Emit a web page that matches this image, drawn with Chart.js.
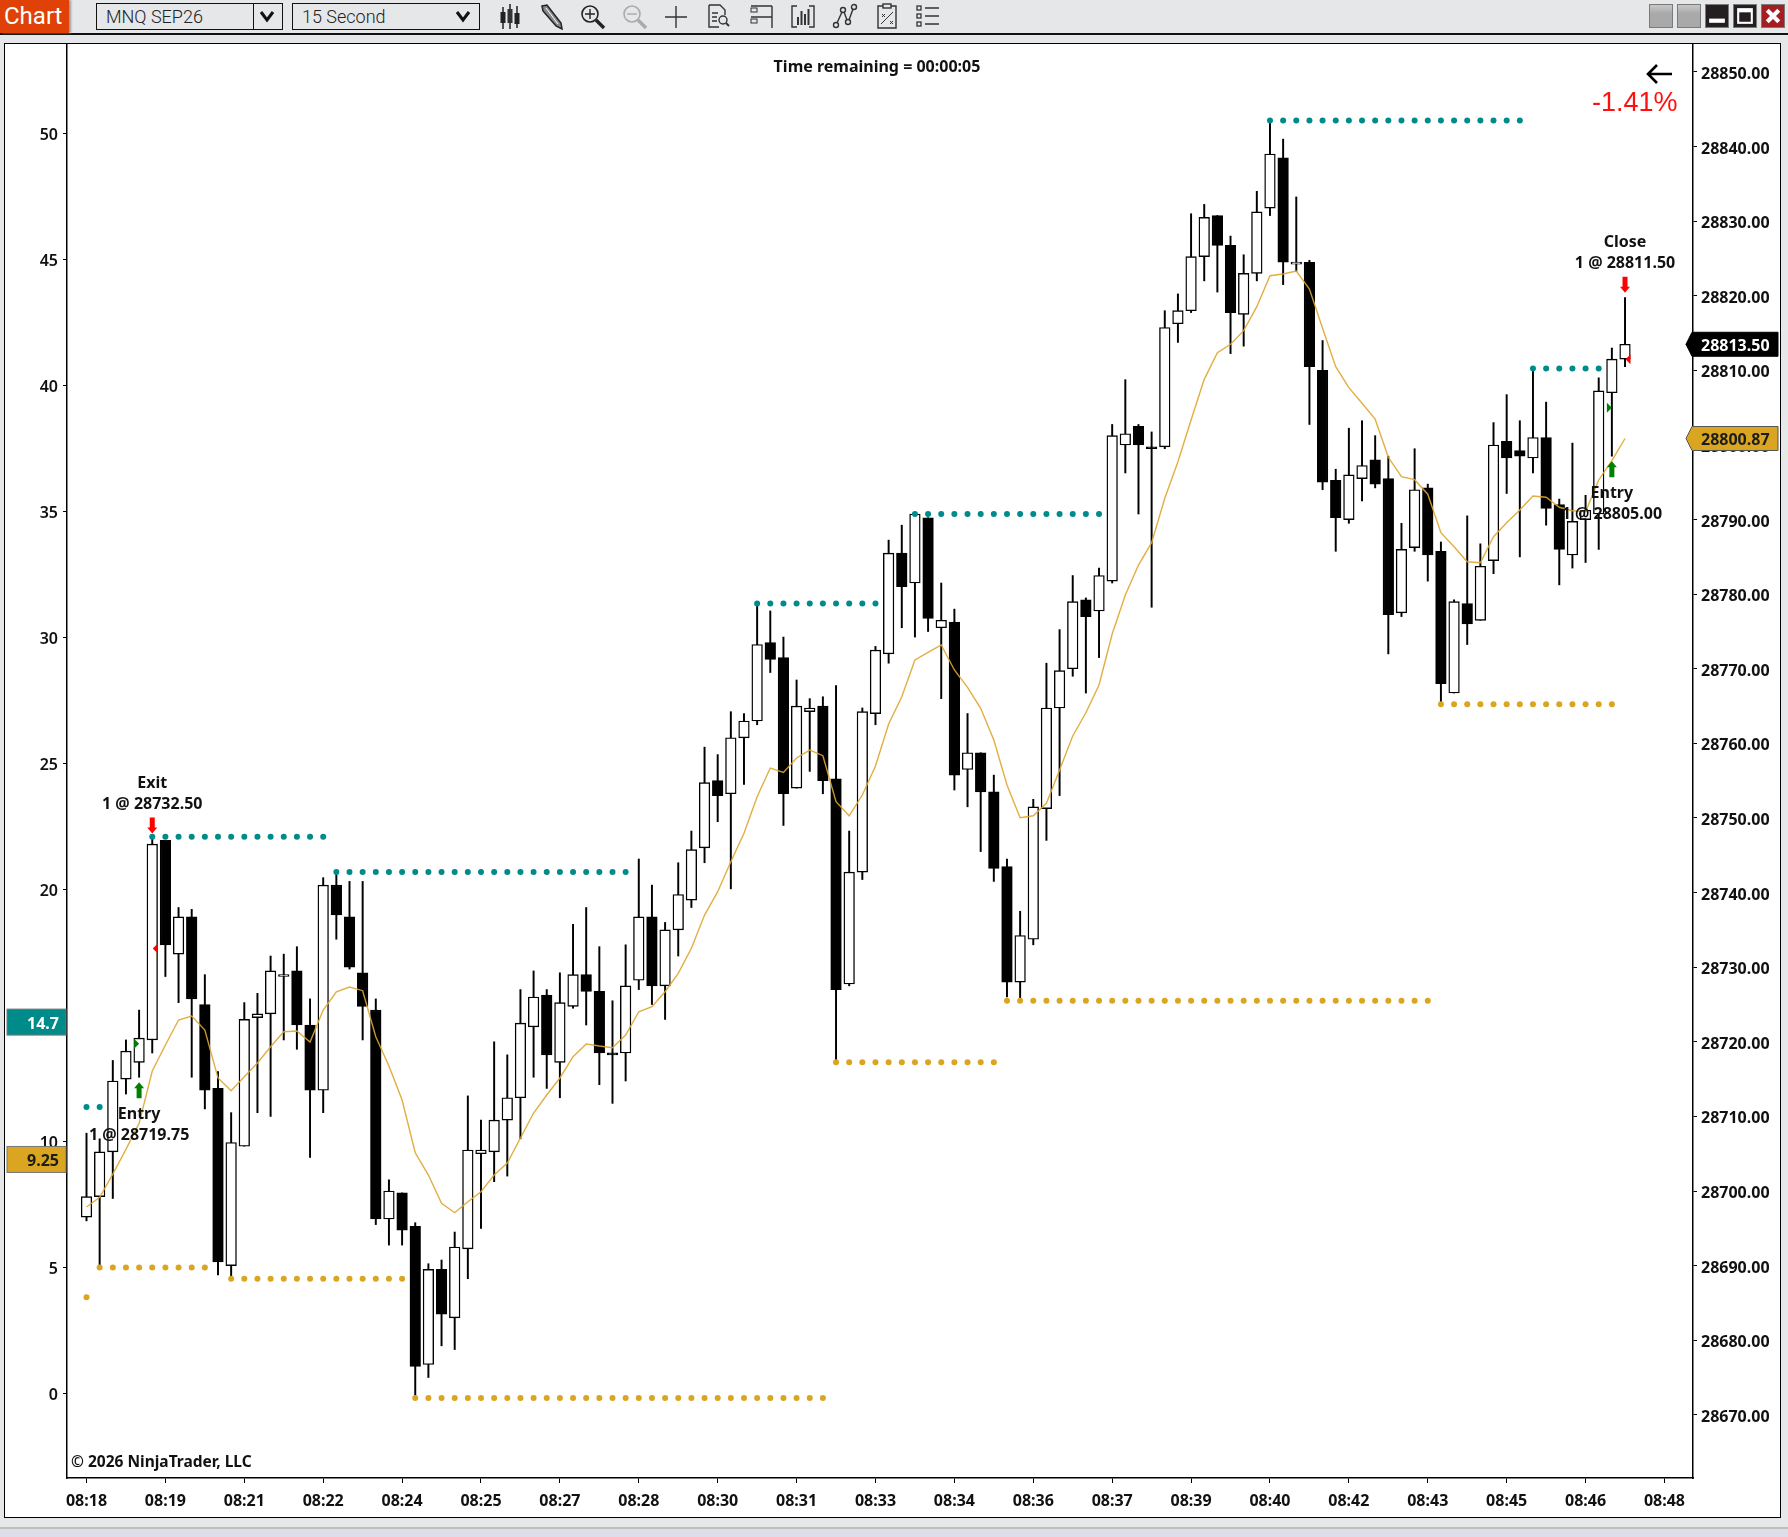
<!DOCTYPE html>
<html>
<head>
<meta charset="utf-8">
<title>MNQ SEP26 15 Second</title>
<script src="https://cdn.jsdelivr.net/npm/chart.js@4/dist/chart.umd.min.js"></script>
<style>
  html, body { margin: 0; padding: 0; width: 1788px; height: 1537px; overflow: hidden; background: #e5e7e9; font-family: "Noto Sans", sans-serif; }
  .abs { position: absolute; }
  #frame { left: 4px; top: 43px; width: 1775px; height: 1473px; background: #fff; border: 1.5px solid #000; }
  #toolbarLine { left: 0; top: 33px; width: 1788px; height: 1.5px; background: #111; }
  #chartBtn { left: 0; top: 0; width: 69px; height: 33px; background: #df4106; color: #fff; font: 400 24px Roboto, sans-serif; line-height: 33px; text-indent: 4px; box-shadow: 2px 0 2px #999; }
  .box { top: 3px; height: 25px; border: 1.5px solid #111; font: 300 18px Roboto, sans-serif; color: #222; line-height: 26px; text-indent: 9px; box-sizing: content-box; }
  .chev { top: 4px; width: 20px; height: 24px; }
  .icon { top: 3px; width: 28px; height: 27px; }
  .win { top: 4px; width: 24px; height: 24px; box-sizing: border-box; border: 1.5px solid #7a7a7a; }
  #timeLeft { left: 677px; top: 55px; width: 400px; text-align: center; font-weight: 700; font-size: 16px; color: #111; line-height: 22px; }
  #pct { left: 1592px; top: 84px; font: 400 27px "Liberation Sans", sans-serif; color: #ff1010; line-height: 36px; }
  #copy { left: 71px; top: 1450px; font-weight: 700; font-size: 15.5px; color: #111; line-height: 22px; }
  #strip { left: 0; top: 1527px; width: 1788px; height: 10px; background: #dcdfe9; border-top: 2.5px solid #bdbdbd; box-sizing: border-box; }
  canvas { position: absolute; left: 0; top: 0; }
</style>
</head>
<body>
<div class="abs" id="toolbarLine"></div>
<div class="abs" id="chartBtn">Chart</div>
<div class="abs box" style="left:96px;width:156px;">MNQ SEP26</div>
<div class="abs box" style="left:253px;width:28px;"></div>
<svg class="abs chev" style="left:257px" viewBox="0 0 20 24"><path d="M4 8l6 8 6-8" fill="none" stroke="#111" stroke-width="3"/></svg>
<div class="abs box" style="left:292px;width:186px;">15 Second</div>
<svg class="abs chev" style="left:453px" viewBox="0 0 20 24"><path d="M4 8l6 8 6-8" fill="none" stroke="#111" stroke-width="3"/></svg>

<svg class="abs icon" style="left:496px" viewBox="0 0 28 27"><path d="M7 4v22M14 1v25M21 3v22" stroke="#222" stroke-width="1.5"/><rect x="4.5" y="9" width="5" height="11" fill="#222"/><rect x="11.5" y="6" width="5" height="14" fill="#333"/><rect x="18.5" y="10" width="5" height="11" fill="#222"/></svg>
<svg class="abs icon" style="left:538px" viewBox="0 0 28 27"><path d="M4 3l5-1 14 18 1 6-6-3L5 8z" fill="#888" stroke="#222" stroke-width="1.5"/><path d="M8 5l12 16" stroke="#fff"/></svg>
<svg class="abs icon" style="left:579px" viewBox="0 0 28 27"><circle cx="11" cy="11" r="8" fill="none" stroke="#222" stroke-width="1.6"/><path d="M11 6v10M6 11h10" stroke="#222" stroke-width="1.4"/><path d="M17 17l8 8" stroke="#222" stroke-width="3.4"/></svg>
<svg class="abs icon" style="left:621px" viewBox="0 0 28 27"><circle cx="11" cy="11" r="8" fill="none" stroke="#aaa" stroke-width="1.6"/><path d="M6 11h10" stroke="#aaa" stroke-width="1.4"/><path d="M17 17l8 8" stroke="#aaa" stroke-width="3.4"/></svg>
<svg class="abs icon" style="left:662px" viewBox="0 0 28 27"><path d="M14 3v22M3 14h22" stroke="#333" stroke-width="1.4"/></svg>
<svg class="abs icon" style="left:704px" viewBox="0 0 28 27"><path d="M5 2h11l5 5v5M5 2v22h10" fill="none" stroke="#333" stroke-width="1.4"/><path d="M8 10h6M8 14h5M8 18h5" stroke="#333" stroke-width="1.4"/><circle cx="19" cy="17" r="4" fill="none" stroke="#333" stroke-width="1.4"/><path d="M22 20l3 3" stroke="#333" stroke-width="2"/></svg>
<svg class="abs icon" style="left:748px" viewBox="0 0 28 27"><path d="M24 3v22M3 3h21M3 14h21" stroke="#333" stroke-width="1.4"/><rect x="3" y="5" width="6" height="4" fill="none" stroke="#333"/><rect x="3" y="16" width="6" height="4" fill="none" stroke="#333"/></svg>
<svg class="abs icon" style="left:789px" viewBox="0 0 28 27"><path d="M8 3H3v21h5M20 3h5v21h-5" fill="none" stroke="#333" stroke-width="1.4"/><path d="M9 14v8M12.5 8v14M16 11v11M19.5 6v16" stroke="#333" stroke-width="2"/></svg>
<svg class="abs icon" style="left:831px" viewBox="0 0 28 27"><circle cx="5" cy="22" r="2.5" fill="none" stroke="#333" stroke-width="1.4"/><circle cx="12" cy="7" r="2.5" fill="none" stroke="#333" stroke-width="1.4"/><circle cx="17" cy="19" r="2.5" fill="none" stroke="#333" stroke-width="1.4"/><circle cx="23" cy="4" r="2.5" fill="none" stroke="#333" stroke-width="1.4"/><path d="M6 20l5-11M13 9l3 8M18 17l4-11" stroke="#333" stroke-width="1.4"/></svg>
<svg class="abs icon" style="left:873px" viewBox="0 0 28 27"><path d="M10 3H5v22h18V3h-5" fill="none" stroke="#333" stroke-width="1.4"/><rect x="10" y="1" width="8" height="4" fill="none" stroke="#333" stroke-width="1.4"/><path d="M8 21L20 9M9 11l3 3M12 11l-3 3M17 18l3 3M20 18l-3 3" stroke="#333"/></svg>
<svg class="abs icon" style="left:914px" viewBox="0 0 28 27"><path d="M11 5h14M11 13h14M11 21h14" stroke="#333" stroke-width="1.6"/><rect x="3" y="3" width="4" height="4" fill="none" stroke="#333" stroke-width="1.3"/><rect x="3" y="11" width="4" height="4" fill="none" stroke="#333" stroke-width="1.3"/><rect x="3" y="19" width="4" height="4" fill="none" stroke="#333" stroke-width="1.3"/></svg>

<div class="abs win" style="left:1649px;background:linear-gradient(#c8c8c8,#a9a9a9 40%)"></div>
<div class="abs win" style="left:1677px;background:linear-gradient(#c8c8c8,#a9a9a9 40%)"></div>
<svg class="abs win" style="left:1705px;background:#231f20" viewBox="0 0 21 21"><rect x="3" y="13" width="15" height="4" fill="#fff"/></svg>
<svg class="abs win" style="left:1733px;background:#231f20" viewBox="0 0 21 21"><rect x="4" y="4" width="13" height="13" fill="none" stroke="#fff" stroke-width="2"/><rect x="4" y="4" width="13" height="3" fill="#fff"/></svg>
<svg class="abs win" style="left:1761px;background:#a31e22" viewBox="0 0 21 21"><path d="M5 5l11 11M16 5L5 16" stroke="#fff" stroke-width="4"/></svg>

<div class="abs" id="frame"></div>
<div class="abs" id="strip"></div>

<canvas id="chartCanvas" width="1788" height="1537" style="width:1788px;height:1537px"></canvas>

<div class="abs" id="timeLeft">Time remaining = 00:00:05</div>
<svg class="abs" style="left:1644px;top:62px" width="30" height="24" viewBox="0 0 30 24"><path d="M28 12H4M13 3l-9 9 9 9" fill="none" stroke="#000" stroke-width="2.6"/></svg>
<div class="abs" id="pct">-1.41%</div>
<div class="abs" id="copy">© 2026 NinjaTrader, LLC</div>

<script>
// 15 second bars
const opens = [28696.5,28699.25,28705.25,28715,28717.25,28720.25,28747,28731.75,28736.75,28725,28713.75,28690,28706,28723.25,28723.75,28728.75,28729.5,28722.25,28713.5,28741,28736.75,28729.25,28724.25,28696.25,28699.75,28695.25,28676.75,28689.5,28683,28692.25,
  28705,28705.25,28709.5,28712.5,28722,28726.25,28717.25,28724.75,28729,28726.75,28718.5,28718.5,28728.25,28736.75,28727.5,28735,28739,28746,28755,28753.25,28760.75,28763,28773.5,28771.5,28754,28764.25,28765,28755.25,28727.75,28742.75,
  28764,28772,28785.5,28781.5,28790.25,28775.5,28776.25,28756.5,28758.75,28753.5,28743.5,28728,28733.75,28751.25,28764.75,28770,28779.25,28777.75,28781.75,28800,28802.5,28799.75,28799.75,28816.25,28818,28825.25,28830.75,28826.75,28817.5,28823,
  28831.75,28838.5,28824.25,28824.5,28810,28795.25,28790,28795.5,28798,28795.5,28777.5,28786.25,28794.25,28785.75,28766.75,28778.75,28776.5,28784.5,28800.5,28799.25,28798.25,28801,28792,28785.25,28790,28790.75,28807,28811.5];
const highs = [28707.75,28707,28717.5,28720.25,28724.25,28747.25,28747,28738,28737.75,28729,28716,28710.5,28725.25,28726.5,28731.5,28731.75,28732.75,28725.75,28742,28742.75,28741.5,28741.5,28725.75,28701.5,28699.75,28695.75,28690.25,28690.75,28694.5,28712.75,
  28709.5,28720,28718.25,28727,28729.5,28727,28729.25,28735.75,28738,28732.75,28725.5,28733,28744.5,28741,28736,28744,28748.25,28759.5,28758.5,28764.25,28764,28778.5,28777.75,28774.25,28768.5,28766,28766.25,28767.75,28748.25,28764.75,
  28773,28787.25,28789.25,28791,28790.25,28781.5,28778,28764,28758.75,28755.75,28744.5,28737.5,28752.5,28770.75,28775.25,28782.5,28779.5,28783.5,28802.75,28808.75,28802.75,28801.75,28818,28820.25,28831,28832.25,28830.75,28828,28825.5,28834,
  28843.5,28841,28833.25,28824.75,28814,28796.75,28802.25,28803.25,28801.25,28798.5,28789.5,28799.5,28794.75,28787,28779.25,28790.5,28786.75,28803,28806.75,28803.25,28810.25,28805.75,28792.75,28800.25,28793.25,28809,28813,28819.75];
const lows = [28696,28689.75,28699,28713,28715.25,28718.5,28728.75,28725.25,28715.25,28711,28688.75,28688.5,28706,28710.5,28710,28720.25,28719,28704.5,28710.5,28733.75,28729.75,28720.25,28695.5,28692.75,28692.75,28672.25,28675,28679.25,28678.75,28688.25,
  28695,28701.25,28702,28707,28715.25,28713.75,28712.5,28724.5,28722.25,28714.25,28711.75,28714.75,28727,28725,28723,28731.5,28738,28744,28749.5,28740.5,28754.5,28762.5,28769.5,28749,28754,28756.25,28753.25,28717.25,28727.5,28741.75,
  28762.5,28770.75,28775.5,28774.25,28775,28766,28753.75,28751.5,28745.5,28741.5,28726,28725.75,28733,28747,28753,28769,28766.75,28771.5,28781.5,28796.25,28790.75,28778.25,28799.5,28813.75,28817.75,28822,28820.5,28812.25,28813.25,28822,
  28830.75,28821.5,28823.25,28802.75,28794,28785.75,28789.5,28792.5,28794.25,28772,28777,28785.75,28781.75,28765.5,28766.75,28773.25,28776.5,28782.75,28793.5,28785,28796.25,28789.25,28781.25,28783.5,28784.25,28786,28798.5,28810.5];
const closes = [28699.25,28705.25,28714.75,28718.75,28720.5,28746.5,28733,28736.75,28725.75,28713.5,28690.5,28706.5,28723,28723.75,28729.5,28728.75,28722.25,28713.5,28741,28737,28730,28724.75,28696.25,28700,28694.75,28676.5,28689.5,28683.5,28692.5,28705.5,
  28705.5,28709.5,28712.5,28722.5,28726,28718.25,28725.25,28729,28726.75,28718.5,28718.25,28727.5,28736.75,28727.5,28735,28739.75,28745.75,28754.75,28753,28760.75,28763,28773.25,28771.25,28753.25,28765,28764.75,28755,28727,28742.75,28764.25,
  28772.5,28785.5,28781,28790.75,28776.75,28776.5,28755.75,28758.75,28753.5,28743.25,28728,28734.25,28751.5,28764.75,28769.75,28779,28777,28782.5,28801.25,28801.5,28800,28799.5,28815.75,28818,28825.25,28830.5,28826.75,28817.75,28823,28831.25,
  28839,28824.5,28824.5,28810.5,28795,28790.25,28796,28797.25,28794.75,28777.25,28786,28794,28785.25,28768,28779,28776,28783.75,28800,28798.25,28798.5,28801,28791.5,28786,28789.75,28791.25,28807.25,28811.5,28813.5];
// orange average line, one value per bar
const avgLine = [28697.85,28699.15,28702.27,28705.59,28709.07,28716.08,28719.57,28722.92,28723.46,28721.58,28715.15,28713.44,28715.32,28717.15,28719.34,28721.35,28721.45,28719.97,28724.26,28726.71,28727.34,28726.85,28720.68,28716.75,28712.19,28705.13,28702.14,28698.35,28697.09,28698.56,
  28699.9,28702.14,28703.75,28707.1,28710.45,28712.87,28715.15,28718,28719.7,28719.43,28719.21,28720.91,28724.03,28724.7,28726.71,28729.18,28732.53,28736.99,28740.12,28744.14,28747.95,28752.85,28756.7,28756.1,28758.04,28759.11,28758.35,28752.18,28750.3,28753.08,
  28756.97,28762.6,28766.26,28771.18,28772.21,28773.19,28769.84,28767.52,28764.7,28760.45,28754.42,28750.04,28750.3,28751.97,28756.43,28760.99,28764.11,28767.83,28774.66,28779.89,28783.91,28786.9,28792.85,28797.76,28803.35,28808.8,28812.37,28813.5,28815.32,28818.54,
  28822.69,28822.92,28823.32,28820.91,28815.64,28810.49,28807.68,28805.59,28803.46,28798.35,28795.75,28795.35,28793.4,28788.24,28786.36,28784.35,28784.22,28787.71,28789.58,28791.28,28793.16,28792.99,28791.65,28791.19,28791.06,28795.31,28797.89,28800.87];

// dotted swing levels: first bar, last bar, price
const tealFrom = [0, 5, 19, 51, 63, 90, 110];
const tealTo = [1, 18, 41, 60, 77, 109, 115];
const tealPrice = [28711.25, 28747.5, 28742.75, 28778.75, 28790.75, 28843.5, 28810.25];
const goldFrom = [0, 1, 11, 25, 57, 70, 103];
const goldTo = [0, 9, 24, 56, 69, 102, 116];
const goldPrice = [28685.75, 28689.75, 28688.25, 28672.25, 28717.25, 28725.5, 28765.25];

// executions
const tradeBars = [4, 5, 116, 117];
const tradeSides = ['Entry', 'Exit', 'Entry', 'Close'];
const tradePrices = [28719.75, 28732.5, 28805, 28811.5];

// axes
const timeBars = [0,6,12,18,24,30,36,42,48,54,60,66,72,78,84,90,96,102,108,114,120];
const timeLabels = ['08:18','08:19','08:21','08:22','08:24','08:25','08:27','08:28','08:30','08:31','08:33','08:34','08:36','08:37','08:39','08:40','08:42','08:43','08:45','08:46','08:48'];
const priceTicks = [28670,28680,28690,28700,28710,28720,28730,28740,28750,28760,28770,28780,28790,28800,28810,28820,28830,28840,28850];
const leftTicks = [0,5,10,15,20,25,30,35,40,45,50];
const leftTags = [14.7, 9.25];
const priceTags = [28813.5, 28800.87];

const FONT = 'bold 16px "Noto Sans", sans-serif';

function expandDots(from, to, price) {
  const pts = [];
  from.forEach((start, k) => {
    for (let i = start; i <= to[k]; i++) pts.push({ x: i, y: price[k] });
  });
  return pts;
}

function setTicks(values) {
  return scale => { scale.ticks = values.map(v => ({ value: v })); };
}

// tags, execution arrows and labels
const tradePlugin = {
  id: 'tradeMarks',
  afterDraw(chart) {
    const ctx = chart.ctx;
    const xs = chart.scales.x, ys = chart.scales.y, yl = chart.scales.yLeft;
    ctx.save();
    ctx.font = FONT;

    tradeBars.forEach((bar, k) => {
      const buy = tradeSides[k] === 'Entry';
      const x = xs.getPixelForValue(bar);
      const color = buy ? '#008000' : '#ff0000';
      ctx.fillStyle = color;

      // little triangle at the fill price
      const py = ys.getPixelForValue(tradePrices[k]);
      ctx.beginPath();
      if (buy) {
        ctx.moveTo(x - 5, py - 5); ctx.lineTo(x, py); ctx.lineTo(x - 5, py + 5);
      } else {
        ctx.moveTo(x + 5.5, py - 5); ctx.lineTo(x + 0.5, py); ctx.lineTo(x + 5.5, py + 5);
      }
      ctx.fill();

      // arrow beyond the bar's extreme
      const anchor = buy ? ys.getPixelForValue(lows[bar]) : ys.getPixelForValue(highs[bar]);
      const dir = buy ? 1 : -1;
      const tip = anchor + dir * 5, tail = anchor + dir * 21;
      ctx.beginPath();
      ctx.moveTo(x, tip);
      ctx.lineTo(x + 5, tip + dir * 6);
      ctx.lineTo(x + 2.5, tip + dir * 6);
      ctx.lineTo(x + 2.5, tail);
      ctx.lineTo(x - 2.5, tail);
      ctx.lineTo(x - 2.5, tip + dir * 6);
      ctx.lineTo(x - 5, tip + dir * 6);
      ctx.closePath();
      ctx.fill();

      ctx.fillStyle = '#111';
      ctx.textAlign = 'center';
      ctx.textBaseline = 'middle';
      ctx.fillText(tradeSides[k], x, anchor + (buy ? 37 : -55));
      ctx.fillText('1 @ ' + tradePrices[k].toFixed(2), x, anchor + (buy ? 58 : -34));
    });

    // left axis value tags
    const left = chart.chartArea.left, right = chart.chartArea.right;
    ctx.textAlign = 'right';
    ctx.textBaseline = 'middle';
    [['#008b8b', '#fff'], ['#daa520', '#1c1c1c']].forEach((c, k) => {
      const y = yl.getPixelForValue(leftTags[k]);
      ctx.fillStyle = c[0];
      ctx.fillRect(7, y - 14, left - 8, 26);
      ctx.strokeStyle = '#777';
      ctx.lineWidth = 1;
      ctx.strokeRect(7, y - 14, left - 8, 26);
      ctx.fillStyle = c[1];
      ctx.fillText(String(leftTags[k]), left - 8, y + 1);
    });

    // right axis price tags
    ctx.textAlign = 'left';
    [['#000', '#fff'], ['#daa520', '#1c1c1c']].forEach((c, k) => {
      const y = ys.getPixelForValue(priceTags[k]);
      ctx.beginPath();
      ctx.moveTo(right - 7, y);
      ctx.lineTo(right - 1, y - 12);
      ctx.lineTo(1778, y - 12);
      ctx.lineTo(1778, y + 12);
      ctx.lineTo(right - 1, y + 12);
      ctx.closePath();
      ctx.fillStyle = c[0];
      ctx.fill();
      ctx.strokeStyle = k === 0 ? '#000' : '#555';
      ctx.lineWidth = 1;
      ctx.stroke();
      ctx.fillStyle = c[1];
      ctx.fillText(priceTags[k].toFixed(2), 1701, y + 2);
    });
    ctx.restore();
  }
};

const barIdx = opens.map((v, i) => i);

new Chart(document.getElementById('chartCanvas'), {
  data: {
    datasets: [
      {
        type: 'bar',
        label: 'wicks',
        data: barIdx.map(i => ({ x: i, y: [lows[i], highs[i]] })),
        backgroundColor: '#000',
        barThickness: 1.3,
        grouped: false,
        order: 6,
        yAxisID: 'y'
      },
      {
        type: 'bar',
        label: 'bodies',
        data: barIdx.map(i => ({ x: i, y: [opens[i], closes[i]] })),
        backgroundColor: c => (closes[c.dataIndex] >= opens[c.dataIndex] ? '#fff' : '#000'),
        borderColor: '#000',
        borderWidth: 1.4,
        borderSkipped: false,
        barThickness: 10.6,
        minBarLength: 2,
        grouped: false,
        order: 5,
        yAxisID: 'y'
      },
      {
        type: 'line',
        label: 'average',
        data: barIdx.map(i => ({ x: i, y: avgLine[i] })),
        borderColor: 'rgba(222,165,45,0.9)',
        borderWidth: 1.4,
        pointRadius: 0,
        tension: 0,
        order: 3,
        yAxisID: 'y'
      },
      {
        type: 'line',
        label: 'swing high',
        data: expandDots(tealFrom, tealTo, tealPrice),
        showLine: false,
        pointRadius: 3,
        pointBorderWidth: 0,
        pointBackgroundColor: '#008b8b',
        order: 2,
        yAxisID: 'y'
      },
      {
        type: 'line',
        label: 'swing low',
        data: expandDots(goldFrom, goldTo, goldPrice),
        showLine: false,
        pointRadius: 3,
        pointBorderWidth: 0,
        pointBackgroundColor: '#daa520',
        order: 1,
        yAxisID: 'y'
      }
    ]
  },
  options: {
    responsive: false,
    devicePixelRatio: 1,
    animation: false,
    layout: { padding: { left: 0, right: 0, top: 44, bottom: 0 } },
    plugins: { legend: { display: false }, tooltip: { enabled: false } },
    scales: {
      x: {
        type: 'linear',
        offset: false,
        min: -1.483,
        max: 122.17,
        afterFit(scale) { scale.height = 59; },
        afterBuildTicks: setTicks(timeBars),
        border: { color: '#000', width: 1.5 },
        grid: { offset: false, drawOnChartArea: false, tickColor: '#000', tickLength: 5 },
        ticks: {
          color: '#111',
          font: { family: '"Noto Sans", sans-serif', size: 16, weight: 'bold' },
          padding: 9,
          maxRotation: 0,
          autoSkip: false,
          callback: v => timeLabels[timeBars.indexOf(v)]
        }
      },
      y: {
        position: 'right',
        min: 28661.53,
        max: 28853.75,
        afterFit(scale) { scale.width = 95; },
        afterBuildTicks: setTicks(priceTicks),
        border: { color: '#000', width: 1.5 },
        grid: { drawOnChartArea: false, tickColor: '#000', tickLength: 4 },
        ticks: {
          color: '#111',
          font: { family: '"Noto Sans", sans-serif', size: 16, weight: 'bold' },
          padding: 4,
          labelOffset: 2.5,
          autoSkip: false,
          callback: v => v.toFixed(2)
        }
      },
      yLeft: {
        position: 'left',
        min: -3.35,
        max: 53.55,
        afterFit(scale) { scale.width = 67; },
        afterBuildTicks: setTicks(leftTicks),
        border: { color: '#000', width: 1.5 },
        grid: { drawOnChartArea: false, tickColor: '#000', tickLength: 4 },
        ticks: {
          color: '#111',
          font: { family: '"Noto Sans", sans-serif', size: 16, weight: '600' },
          padding: 5,
          labelOffset: 1.5,
          autoSkip: false,
          callback: v => String(v)
        }
      }
    }
  },
  plugins: [tradePlugin]
});
</script>
</body>
</html>
